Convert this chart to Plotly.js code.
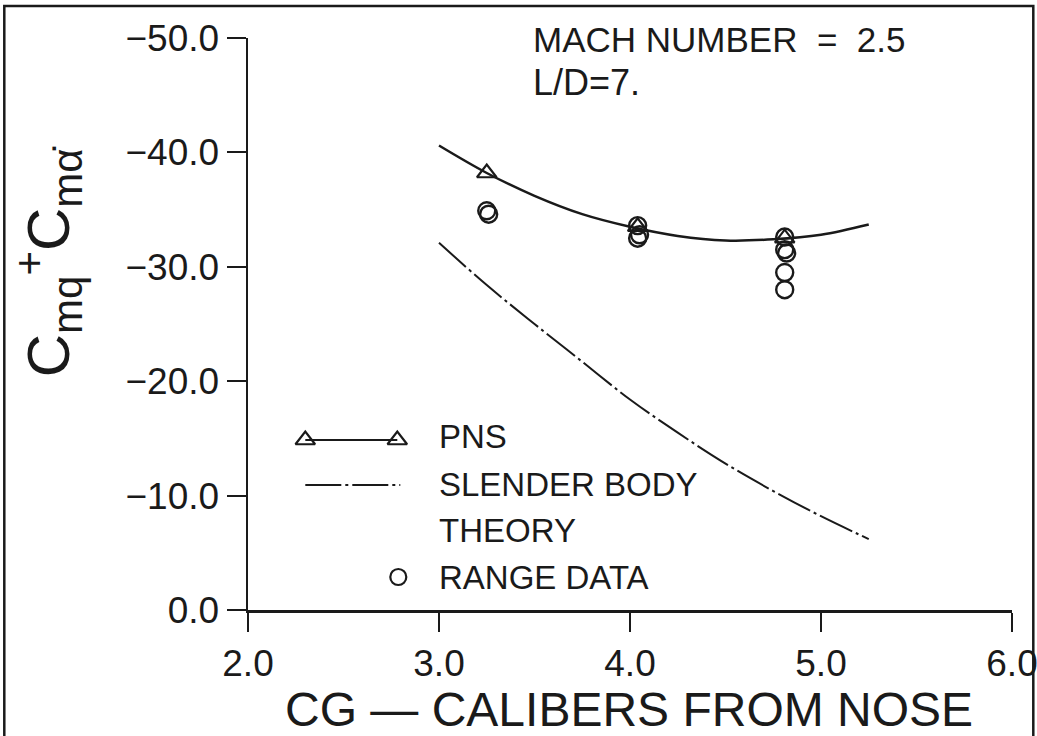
<!DOCTYPE html>
<html>
<head>
<meta charset="utf-8">
<script src="https://cdn.plot.ly/plotly-3.0.1.min.js"></script>
<style>
html,body{margin:0;padding:0;background:#fff;}
#chart{width:1037px;height:736px;}
</style>
</head>
<body>
<div id="chart"></div>
<script>
// ---- data ----
const cgPnsCurve   = [3.0, 3.25, 3.5, 3.75, 4.0, 4.25, 4.5, 4.75, 5.0, 5.25];
const dampPnsCurve = [-40.6, -38.2, -36.2, -34.6, -33.5, -32.7, -32.3, -32.4, -32.8, -33.7];

const cgPnsPoints   = [3.25, 4.04, 4.81];
const dampPnsPoints = [-38.2, -33.5, -32.5];

const cgSlender   = [3.0, 3.25, 3.5, 3.75, 4.0, 4.25, 4.5, 4.75, 5.0, 5.25];
const dampSlender = [-32.1, -28.4, -25.0, -21.7, -18.4, -15.5, -12.8, -10.4, -8.2, -6.2];

const cgRange   = [3.25, 3.26, 4.04, 4.05, 4.04, 4.81, 4.81, 4.82, 4.81, 4.81];
const dampRange = [-34.9, -34.6, -33.6, -32.8, -32.5, -32.6, -31.5, -31.2, -29.5, -28.0];

const xTickVals = [2.0, 3.0, 4.0, 5.0, 6.0];
const xTickText = ["2.0", "3.0", "4.0", "5.0", "6.0"];
const yTickVals = [0, -10, -20, -30, -40, -50];
const yTickText = ["0.0", "\u221210.0", "\u221220.0", "\u221230.0", "\u221240.0", "\u221250.0"];

const legendLabels = ["PNS", "SLENDER BODY", "THEORY", "RANGE DATA"];

// ---- layout geometry (pixels of the 1037x736 page) ----
const W = 1037, H = 736;
const L = 247.7, R = 1011.7, T = 38, B = 610;
const px = x => (x - L) / (R - L);
const py = y => (B - y) / (B - T);

const FONT = "Liberation Sans, Arial, sans-serif";
const INK = "#1a1a1a";

const traces = [
  { x: cgPnsCurve, y: dampPnsCurve, mode: "lines", line: {color: INK, width: 2.5, shape: "spline"}, hoverinfo: "skip" },
  { x: cgSlender, y: dampSlender, mode: "lines", line: {color: INK, width: 2, shape: "spline", dash: "36px,4px,3px,4px"}, hoverinfo: "skip" },
  { x: cgPnsPoints, y: dampPnsPoints, mode: "markers", marker: {symbol: "triangle-up-open", size: 17, color: INK, line: {width: 2.2, color: INK}} },
  { x: cgRange, y: dampRange, mode: "markers", marker: {symbol: "circle-open", size: 17, color: INK, line: {width: 2.4, color: INK}} },
  // legend samples on an overlay axis in fraction-of-plot units
  { x: [px(305), px(397)], y: [py(440), py(440)], xaxis: "x2", yaxis: "y2", mode: "lines+markers",
    line: {color: INK, width: 2.2}, marker: {symbol: "triangle-up-open", size: 17, color: INK, line: {width: 2.2, color: INK}} },
  { x: [px(305), px(400)], y: [py(485), py(485)], xaxis: "x2", yaxis: "y2", mode: "lines",
    line: {color: INK, width: 2, dash: "36px,4px,3px,4px"} },
  { x: [px(398)], y: [py(577)], xaxis: "x2", yaxis: "y2", mode: "markers",
    marker: {symbol: "circle-open", size: 16, color: INK, line: {width: 2.2, color: INK}} }
];

const legendY = [437, 484, 530, 577];
const annotations = legendLabels.map((t, i) => ({
  text: t, xref: "paper", yref: "paper", x: px(437), y: py(legendY[i]),
  xanchor: "left", yanchor: "middle", showarrow: false,
  font: {family: FONT, size: 33, color: INK}
}));
annotations.push(
  { text: "MACH NUMBER  =  2.5", xref: "paper", yref: "paper", x: px(531), y: py(39),
    xanchor: "left", yanchor: "middle", showarrow: false, font: {family: FONT, size: 35, color: INK} },
  { text: "L/D=7.", xref: "paper", yref: "paper", x: px(531), y: py(83),
    xanchor: "left", yanchor: "middle", showarrow: false, font: {family: FONT, size: 36, color: INK} },
  { text: "CG \u2014 CALIBERS FROM NOSE", xref: "paper", yref: "paper", x: px(629), y: py(709),
    xanchor: "center", yanchor: "middle", showarrow: false, font: {family: FONT, size: 48, color: INK} },
  { text: "C<sub>mq</sub><sup>+</sup>C<sub>m\u03B1\u0307</sub>", xref: "paper", yref: "paper", x: px(48), y: py(262),
    xanchor: "center", yanchor: "middle", textangle: -90, showarrow: false, font: {family: FONT, size: 60, color: INK} }
);

const layout = {
  width: W, height: H,
  margin: {l: L, r: W - R, t: T, b: H - B, pad: 0},
  paper_bgcolor: "#fff", plot_bgcolor: "#fff",
  showlegend: false,
  font: {family: FONT, color: INK},
  xaxis: {
    range: [2.0, 6.0], tickvals: xTickVals, ticktext: xTickText, ticklabeloverflow: "allow",
    showgrid: false, zeroline: false, showline: true, linecolor: INK, linewidth: 3,
    ticks: "outside", ticklen: 19, tickwidth: 2, tickcolor: INK,
    tickfont: {family: FONT, size: 37, color: INK}
  },
  yaxis: {
    range: [0, -50], tickvals: yTickVals, ticktext: yTickText, ticklabeloverflow: "allow",
    showgrid: false, zeroline: false, showline: true, linecolor: INK, linewidth: 2.5,
    ticks: "outside", ticklen: 19, tickwidth: 2, tickcolor: INK,
    tickfont: {family: FONT, size: 37, color: INK}
  },
  xaxis2: {overlaying: "x", range: [0, 1], visible: false, fixedrange: true},
  yaxis2: {overlaying: "y", range: [0, 1], visible: false, fixedrange: true},
  annotations: annotations,
  shapes: [
    { type: "path", xref: "paper", yref: "paper",
      path: `M ${px(4)} ${py(760)} L ${px(4)} ${py(6)} L ${px(1033)} ${py(6)} L ${px(1033)} ${py(760)}`,
      line: {color: INK, width: 2.5} }
  ]
};

Plotly.newPlot("chart", traces, layout, {staticPlot: true, displayModeBar: false});
</script>
</body>
</html>
